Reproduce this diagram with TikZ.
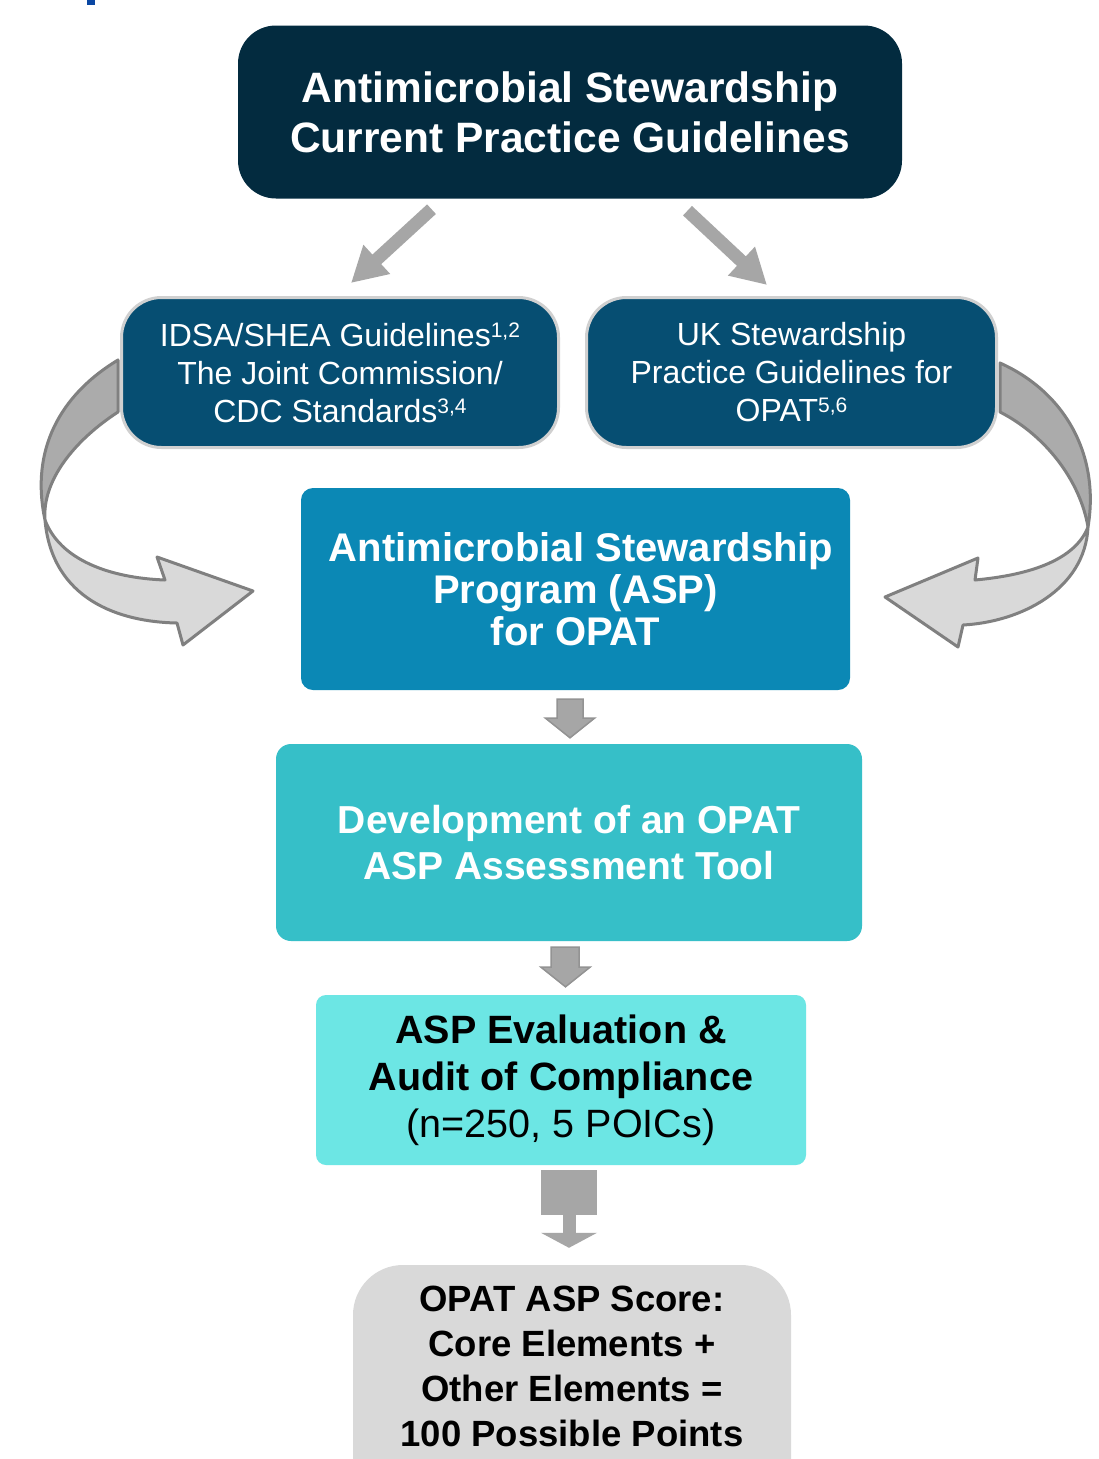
\documentclass[tikz,border=0pt]{standalone}
\usepackage{fontspec}
\setmainfont{Liberation Sans}
\usetikzlibrary{arrows.meta,calc}

\definecolor{navy}{HTML}{032B3F}
\definecolor{guideblue}{HTML}{064E72}
\definecolor{aspblue}{HTML}{0B88B5}
\definecolor{devteal}{HTML}{36BFC8}
\definecolor{evalcyan}{HTML}{6CE6E4}
\definecolor{scoregray}{HTML}{D9D9D9}
\definecolor{arrowgray}{HTML}{A6A6A6}
\definecolor{ribbondark}{HTML}{ABABAB}
\definecolor{ribbonlight}{HTML}{D9D9D9}
\definecolor{ribbonedge}{HTML}{808080}
\definecolor{edgegray}{HTML}{D0D0D0}
\definecolor{headblue}{HTML}{0A47A3}

% small superscript reference marks
\newcommand\refsup[1]{\raisebox{9pt}{\fontsize{21}{21}\selectfont #1}}

\tikzset{
  card/.style={inner sep=0pt, align=center},
  guidecard/.style={card, fill=guideblue, draw=edgegray, line width=3pt,
    rounded corners=40pt, minimum width=437pt, minimum height=150pt,
    text=white, font=\fontsize{32}{38}\selectfont},
  ribbonback/.style={fill=ribbondark, draw=ribbonedge, line width=3pt, line join=round},
  ribbonfront/.style={fill=ribbonlight, draw=ribbonedge, line width=3pt, line join=round},
  slant/.style={draw=arrowgray, line width=13pt,
    -{Triangle[length=35pt,width=37pt]}},
  blockarrow/.style={fill=arrowgray, draw=ribbonedge!85, line width=1.5pt, line join=miter},
  plainarrow/.style={fill=arrowgray},
}

\begin{document}
\begin{tikzpicture}[x=1pt,y=-1pt]
\useasboundingbox (0,0) rectangle (1098,1459);
\clip (0,0) rectangle (1098,1459);
\fill[white] (0,0) rectangle (1098,1459);

% fragment of the page heading above
\fill[headblue] (87,-2) rectangle (95,5);

% twisted ribbon arrows (behind the cards)
\draw[ribbonback] (118,360) .. controls (60,395) and (30,450) .. (45,520)
   .. controls (42,480) and (75,440) .. (118,412) -- cycle;
\draw[ribbonfront] (45,520) .. controls (52,600) and (120,622) .. (177,623)
   -- (183,645) -- (253,591) -- (157,557) -- (165,580)
   .. controls (110,578) and (60,560) .. (45,520) -- cycle;

\draw[ribbonback] (1000,363) .. controls (1065,392) and (1100,455) .. (1088,527)
   .. controls (1080,480) and (1045,435) .. (1000,412) -- cycle;
\draw[ribbonfront] (1088,527) .. controls (1085,590) and (1020,622) .. (963,625)
   -- (958,647) -- (885,597) -- (978,558) -- (975,580)
   .. controls (1030,575) and (1075,560) .. (1088,527) -- cycle;

% cards
\node[card, fill=navy, rounded corners=38pt, minimum width=664pt, minimum height=173pt,
      text=white, font=\bfseries\fontsize{42.5}{50}\selectfont]
  (top) at (570,112) {Antimicrobial Stewardship\\Current Practice Guidelines};

\node[guidecard] (idsa) at (340,372.5)
  {IDSA/SHEA Guidelines\refsup{1,2}\\The Joint Commission/\\CDC Standards\refsup{3,4}};

\node[guidecard, minimum width=410pt] (uk) at (791.5,372.5)
  {UK Stewardship\\Practice Guidelines for\\OPAT\refsup{5,6}};

\node[card, fill=aspblue, rounded corners=12pt, minimum width=549pt, minimum height=202pt,
      text=white, font=\bfseries\fontsize{40}{42}\selectfont]
  (asp) at (575.5,589) {\hspace*{11pt}Antimicrobial Stewardship\\Program (ASP)\\for OPAT};

\node[card, fill=devteal, rounded corners=15pt, minimum width=586pt, minimum height=197pt,
      text=white, font=\bfseries\fontsize{39}{46}\selectfont]
  (dev) at (569,842.5) {Development of an OPAT\\ASP Assessment Tool};

\node[card, fill=evalcyan, rounded corners=10pt, minimum width=490pt, minimum height=170pt,
      text=black, font=\fontsize{39.5}{47}\selectfont]
  (eval) at (561,1080) {\textbf{ASP Evaluation \&}\\\textbf{Audit of Compliance}\\(n=250, 5 POICs)};

\node[card, fill=scoregray, rounded corners=50pt, minimum width=438pt, minimum height=270pt]
  (score) at (572,1400) {};
\node[card, text=black, font=\bfseries\fontsize{36.5}{45}\selectfont]
  (scoretext) at (572,1366) {OPAT ASP Score:\\Core Elements +\\Other Elements =\\100 Possible Points};

% slanted arrows from the guideline card
\coordinate (s1a) at ($(top.south)+(-138.5,10.5)$);
\coordinate (s1b) at ($(idsa.north)+(11,-13)$);
\coordinate (s2a) at ($(top.south)+(117.5,12)$);
\coordinate (s2b) at ($(uk.north)+(-24.5,-11)$);
\draw[slant] (s1a) -- (s1b);
\draw[slant] (s2a) -- (s2b);

% block arrows between the stacked cards
\draw[blockarrow] ($(asp.south)+(-18.5,9)$) -- ++(26,0) -- ++(0,19) -- ++(11.5,0)
   -- ($(dev.north)+(1,-6)$) -- ($(asp.south)+(-30,28)$) -- ++(11.5,0) -- cycle;
\draw[blockarrow] ($(dev.south)+(-18,6)$) -- ++(28,0) -- ++(0,20) -- ++(11,0)
   -- ($(eval.north)+(4.5,-8)$) -- ($(dev.south)+(-28,26)$) -- ++(10,0) -- cycle;
\fill[plainarrow] ($(eval.south)+(-20,5)$) rectangle ++(56,45);
\fill[plainarrow] ($(eval.south)+(2,50)$) rectangle ++(13,18);
\fill[plainarrow] ($(score.north)+(-31,-32)$) -- ++(56,0) -- ($(score.north)+(-3,-17)$) -- cycle;
\end{tikzpicture}
\end{document}
